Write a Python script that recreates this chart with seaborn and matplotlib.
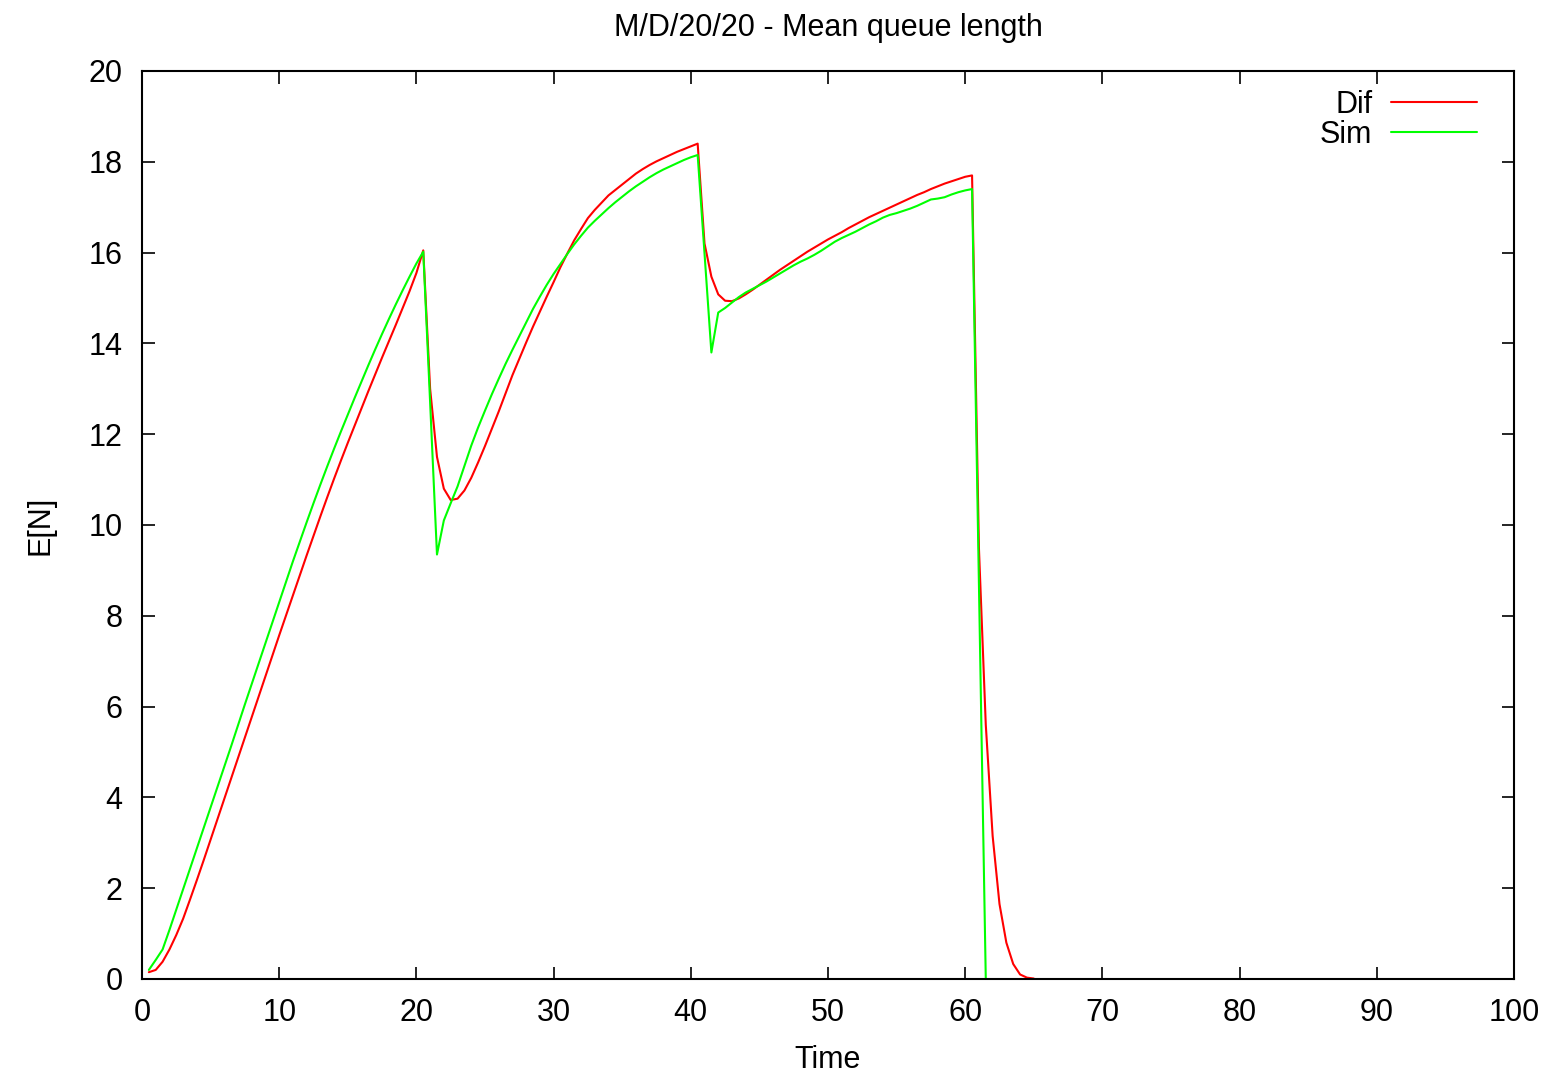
import numpy as np
import pandas as pd
import matplotlib
matplotlib.use("Agg")
import matplotlib.pyplot as plt
import seaborn as sns

# ---- data ----
dif_time = [0.5 * i for i in range(1, 131)]  # 0.5 .. 65.0
dif_seg1 = [0.15, 0.2, 0.38, 0.65, 0.97, 1.33, 1.75, 2.18, 2.62, 3.07, 3.52, 3.97,
            4.42, 4.87, 5.32, 5.77, 6.22, 6.67, 7.12, 7.57, 8.01, 8.45, 8.89, 9.33,
            9.76, 10.19, 10.61, 11.02, 11.42, 11.81, 12.19, 12.57, 12.95, 13.32,
            13.69, 14.05, 14.41, 14.78, 15.15, 15.55, 16.05]
dif_seg2 = [13.0, 11.5, 10.8, 10.55, 10.58, 10.76, 11.04, 11.38, 11.74, 12.12,
            12.5, 12.9, 13.3, 13.66, 14.02, 14.37, 14.7, 15.03, 15.35, 15.68,
            15.98, 16.27, 16.52, 16.76, 16.94, 17.1, 17.26, 17.38, 17.5, 17.62,
            17.74, 17.84, 17.93, 18.01, 18.08, 18.15, 18.22, 18.28, 18.34, 18.4]
dif_seg3 = [16.2, 15.47, 15.08, 14.94, 14.93, 14.99, 15.08, 15.18, 15.29, 15.4,
            15.51, 15.62, 15.72, 15.82, 15.92, 16.02, 16.11, 16.2, 16.29, 16.37,
            16.45, 16.54, 16.62, 16.7, 16.78, 16.85, 16.92, 16.99, 17.06, 17.13,
            17.2, 17.27, 17.33, 17.4, 17.46, 17.52, 17.57, 17.62, 17.67, 17.7]
dif_tail = [9.5, 5.6, 3.15, 1.65, 0.8, 0.33, 0.1, 0.03, 0.01]
dif_values = dif_seg1 + dif_seg2 + dif_seg3 + dif_tail

sim_time = [0.5 * i for i in range(1, 124)]  # 0.5 .. 61.5
sim_seg1 = [0.2, 0.42, 0.65, 1.08, 1.53, 1.98, 2.43, 2.88, 3.33, 3.78, 4.23, 4.68,
            5.13, 5.59, 6.05, 6.5, 6.95, 7.4, 7.85, 8.3, 8.75, 9.2, 9.63,
            10.06, 10.48, 10.89, 11.29, 11.68, 12.06, 12.43, 12.8, 13.16, 13.52,
            13.87, 14.21, 14.54, 14.86, 15.17, 15.47, 15.76, 16.02]
sim_seg2 = [12.7, 9.35, 10.1, 10.48, 10.85, 11.3, 11.75, 12.15, 12.52, 12.88,
            13.22, 13.55, 13.86, 14.16, 14.46, 14.76, 15.03, 15.29, 15.53, 15.75,
            15.97, 16.18, 16.37, 16.55, 16.7, 16.84, 16.98, 17.11, 17.23, 17.35,
            17.46, 17.56, 17.66, 17.75, 17.83, 17.9, 17.97, 18.04, 18.1, 18.15]
sim_seg3 = [15.98, 13.8, 14.68, 14.78, 14.9, 15.02, 15.12, 15.2, 15.28, 15.36,
            15.45, 15.54, 15.63, 15.72, 15.8, 15.87, 15.95, 16.04, 16.14, 16.24,
            16.32, 16.39, 16.46, 16.54, 16.62, 16.69, 16.77, 16.83, 16.87, 16.92,
            16.97, 17.03, 17.1, 17.17, 17.19, 17.22, 17.28, 17.33, 17.37, 17.4]
sim_tail = [8.7, 0.0]
sim_values = sim_seg1 + sim_seg2 + sim_seg3 + sim_tail

x_ticks = [0, 10, 20, 30, 40, 50, 60, 70, 80, 90, 100]
y_ticks = [0, 2, 4, 6, 8, 10, 12, 14, 16, 18, 20]

# ---- style ----
sns.set_theme(style="ticks")
plt.rcParams['font.family'] = ['Liberation Sans', 'DejaVu Sans']
plt.rcParams['text.color'] = 'black'
plt.rcParams['axes.labelcolor'] = 'black'

fig = plt.figure(figsize=(15.54, 10.75), dpi=100)
ax = fig.add_axes([142 / 1554, 96 / 1075, (1514 - 142) / 1554, (979 - 71) / 1075])

dif_df = pd.DataFrame({"Time": dif_time, "E[N]": dif_values})
sim_df = pd.DataFrame({"Time": sim_time, "E[N]": sim_values})

sns.lineplot(data=dif_df, x="Time", y="E[N]", ax=ax, color="#ff0000",
             linewidth=1.5, label="Dif", estimator=None, sort=False)
sns.lineplot(data=sim_df, x="Time", y="E[N]", ax=ax, color="#00ff00",
             linewidth=1.5, label="Sim", estimator=None, sort=False)

ax.set_xlim(0, 100)
ax.set_ylim(0, 20)
ax.set_xticks(x_ticks)
ax.set_yticks(y_ticks)
ax.tick_params(direction="in", length=9, width=1.2, top=True, right=True,
               labelsize=22, pad=14, colors="black")
for s in ax.spines.values():
    s.set_visible(True)
    s.set_linewidth(1.5)
    s.set_color("black")

ax.set_xlabel("Time", fontsize=22, labelpad=12, color="black")
ax.set_ylabel("E[N]", fontsize=22, labelpad=24, color="black")
ax.set_title("M/D/20/20 - Mean queue length", fontsize=22, pad=25, color="black")

leg = ax.legend(loc="upper right", bbox_to_anchor=(0.9818, 0.993),
                frameon=False, markerfirst=False, fontsize=22,
                handlelength=2.8, labelspacing=0.0, borderaxespad=0.0,
                handletextpad=0.62)
for t in leg.get_texts():
    t.set_color("black")

fig.savefig("out.png", dpi=100)
